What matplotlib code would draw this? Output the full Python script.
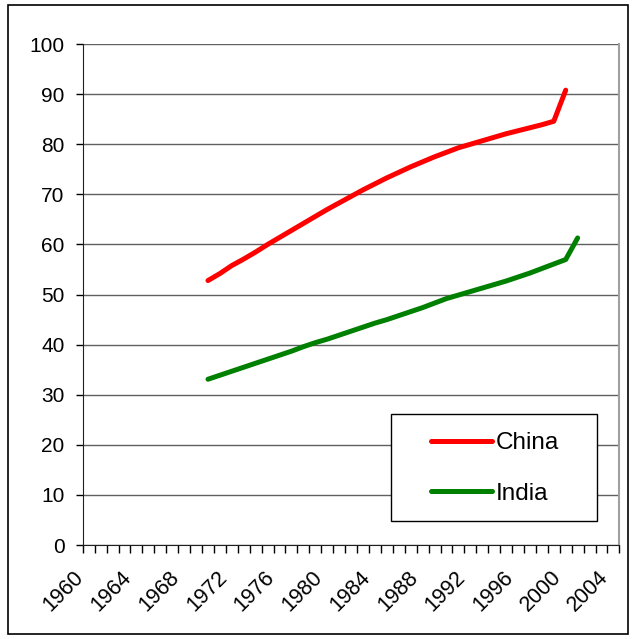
import matplotlib
matplotlib.use("Agg")
import matplotlib.pyplot as plt
import matplotlib.transforms as mtrans
from matplotlib.patches import Rectangle
from matplotlib.ticker import MultipleLocator

plt.rcParams['font.family'] = ['Liberation Sans', 'DejaVu Sans']

years_china = list(range(1970, 2001))
china = [52.8, 54.2, 55.8, 57.1, 58.5, 60.0, 61.4, 62.8, 64.2, 65.6,
         67.0, 68.3, 69.6, 70.9, 72.1, 73.3, 74.4, 75.5, 76.5, 77.5,
         78.4, 79.3, 80.0, 80.7, 81.4, 82.1, 82.7, 83.3, 83.9, 84.6,
         90.8]

years_india = list(range(1970, 2002))
india = [33.1, 33.9, 34.7, 35.5, 36.3, 37.1, 37.9, 38.7, 39.6, 40.4,
         41.1, 41.9, 42.7, 43.5, 44.3, 45.0, 45.8, 46.6, 47.4, 48.3,
         49.2, 49.9, 50.6, 51.3, 52.0, 52.7, 53.5, 54.3, 55.2, 56.1,
         57.0, 61.3]

tick_years = list(range(1960, 2005, 4))

fig = plt.figure(figsize=(6.32, 6.39), dpi=100)
fig.patches.append(Rectangle((8/632, 5/639), 620/632, 629/639, transform=fig.transFigure,
                             fill=False, edgecolor='black', linewidth=1.2))

ax = fig.add_axes([0.131, 0.147, 0.849, 0.784])

ax.plot(years_china, china, color='#ff0000', lw=3.6, solid_capstyle='round',
        solid_joinstyle='round', label='China')
ax.plot(years_india, india, color='#008000', lw=3.6, solid_capstyle='round',
        solid_joinstyle='round', label='India')

ax.set_xticks(tick_years)
ax.set_xticklabels([str(y) for y in tick_years], rotation=45, ha='right', va='center',
                   rotation_mode='anchor', fontsize=15.5)
ax.xaxis.set_minor_locator(MultipleLocator(1, offset=0.5))
ax.set_xlim(1959.5, 2004.5)
ax.set_ylim(0, 100)
ax.set_yticks(range(0, 101, 10))
ax.yaxis.grid(True, color='#606060', lw=1)
ax.set_axisbelow(True)

ax.tick_params(axis='x', which='major', length=0, pad=21)
ax.tick_params(axis='x', which='minor', length=6, width=1, direction='out')
ax.tick_params(axis='y', length=5, width=1, direction='out', labelsize=15, pad=8)

# nudge year labels a bit left, like the excel category axis
# (done after tick_params, which resets the label transforms)
shift = mtrans.ScaledTranslation(-0.08, 0, fig.dpi_scale_trans)
for lab in ax.xaxis.get_majorticklabels():
    lab.set_transform(lab.get_transform() + shift)

ax.spines['top'].set_visible(False)
ax.spines['right'].set_color('#a0a0a0')
ax.spines['right'].set_linewidth(1.5)
ax.spines['left'].set_color('#202020')
ax.spines['bottom'].set_color('#202020')

# legend box drawn separately so the padding matches
ax.add_patch(Rectangle((0.575, 0.048), 0.384, 0.2135, transform=ax.transAxes,
                       facecolor='white', edgecolor='black', lw=1, zorder=5))
leg = ax.legend(loc='upper left', bbox_to_anchor=(0.649, 0.2255),
                fontsize=17.5, frameon=False, handlelength=2.5, handletextpad=0.17,
                labelspacing=1.18, borderpad=0, borderaxespad=0)
leg.set_zorder(6)

fig.savefig('out.png', dpi=100)
